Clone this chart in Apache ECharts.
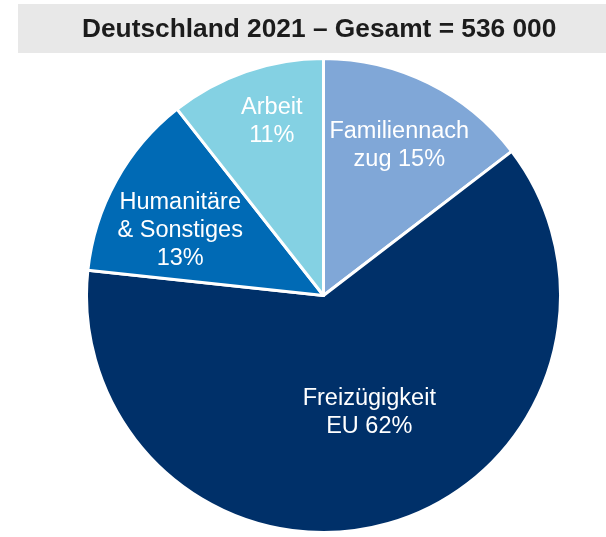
<!DOCTYPE html>
<html>
<head>
<meta charset="utf-8">
<script src="https://cdn.jsdelivr.net/npm/echarts@6/dist/echarts.min.js"></script>
<style>html,body{margin:0;padding:0;background:#fff}#c{width:606px;height:537px}</style>
</head>
<body>
<div id="c"></div>
<script>
var titleText = 'Deutschland 2021 – Gesamt = 536 000';
var categories = ['Familiennach\nzug', 'Freizügigkeit\nEU', 'Humanitäre\n& Sonstiges\n', 'Arbeit\n'];
var shares = [14.6, 62.1, 12.7, 10.6];
var colors = ['#80a7d7', '#003069', '#006ab5', '#84d1e3'];
var labelShift = [[22, -41], [13, 0], [-37, -6], [-12, -59]];

var chart = echarts.init(document.getElementById('c'), null, {renderer: 'canvas'});
chart.setOption({
  animation: false,
  title: {
    text: titleText,
    left: 18,
    top: 4,
    backgroundColor: '#e8e8e8',
    padding: [13, 54, 10, 64],
    textStyle: {
      fontFamily: 'Liberation Sans, Arial, sans-serif',
      fontSize: 26.3,
      fontWeight: 'bold',
      color: '#1c1c1c',
      lineHeight: 26
    }
  },
  series: [{
    type: 'pie',
    center: [323.5, 295.5],
    radius: 237,
    startAngle: 90,
    clockwise: true,
    data: categories.map(function (c, i) {
      return {name: c, value: shares[i], itemStyle: {color: colors[i]}};
    }),
    itemStyle: {borderColor: '#ffffff', borderWidth: 3},
    label: {
      position: 'inside',
      formatter: function (p) {
        var sep = p.name.slice(-1) === '\n' ? '' : ' ';
        return p.name + sep + Math.round(p.value) + '%';
      },
      color: '#ffffff',
      fontFamily: 'Liberation Sans, Arial, sans-serif',
      fontSize: 23.5,
      lineHeight: 28,
      align: 'center'
    },
    labelLayout: function (p) {
      return {dx: labelShift[p.dataIndex][0], dy: labelShift[p.dataIndex][1]};
    },
    labelLine: {show: false},
    emphasis: {disabled: true}
  }]
});
</script>
</body>
</html>
